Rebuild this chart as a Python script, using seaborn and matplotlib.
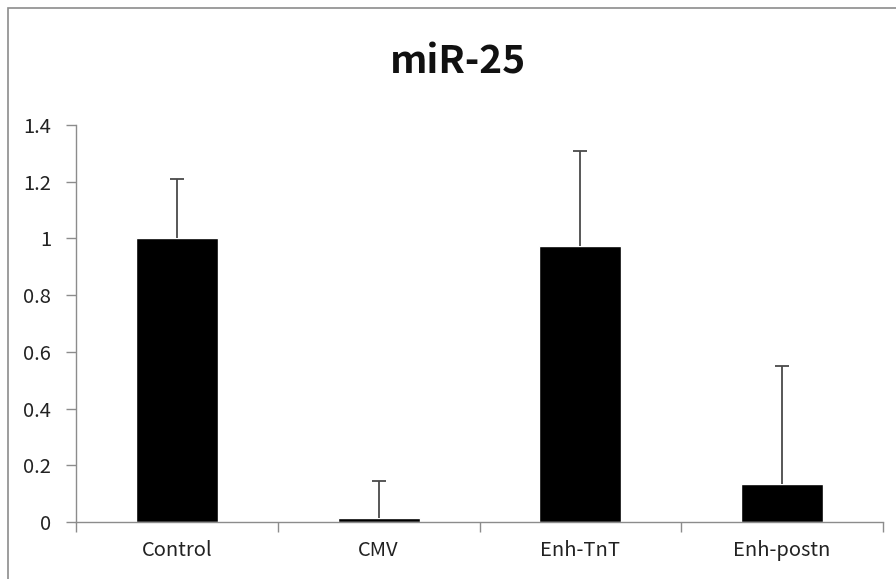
import matplotlib
matplotlib.use("Agg")
import matplotlib.pyplot as plt
import matplotlib.patches as mpatches
import seaborn as sns
import pandas as pd
from matplotlib.ticker import FuncFormatter, FixedLocator

# === data ===
groups = ["Control", "CMV", "Enh-TnT", "Enh-postn"]
means = [1.0, 0.015, 0.973, 0.134]
err_up = [0.209, 0.128, 0.337, 0.416]

df = pd.DataFrame({"group": groups, "value": means})

sns.set_style("white")
plt.rcParams["font.family"] = ["Noto Sans CJK KR", "DejaVu Sans"]

W, H = 896, 579
fig = plt.figure(figsize=(W / 100, H / 100), dpi=100)
ax = fig.add_axes([76 / W, 1 - 522 / H, (883 - 76) / W, (522 - 125) / H])

sns.barplot(data=df, x="group", y="value", color="black", width=0.406,
            errorbar=None, saturation=1, ax=ax)

# error bars (upper only)
xs = [p.get_x() + p.get_width() / 2 for p in ax.patches]
eb = ax.errorbar(xs, means, yerr=[[0] * len(means), err_up], fmt="none",
                 ecolor="#4a4a4a", elinewidth=1.3, capsize=5, capthick=1.3)
eb[1][0].set_visible(False)  # hide lower caps

ax.set_xlim(-0.5, len(groups) - 0.5)
ax.set_ylim(0, 1.4)
ax.set_yticks([0, 0.2, 0.4, 0.6, 0.8, 1.0, 1.2, 1.4])
ax.yaxis.set_major_formatter(FuncFormatter(lambda v, p: f"{v:g}"))
ax.set_xlabel("")
ax.set_ylabel("")

for s in ["top", "right"]:
    ax.spines[s].set_visible(False)
for s in ["left", "bottom"]:
    ax.spines[s].set_color("#8c8c8c")
    ax.spines[s].set_linewidth(1.0)

ax.tick_params(axis="x", which="major", length=0, pad=13, labelsize=14.5, colors="#222222")
ax.xaxis.set_minor_locator(FixedLocator([-0.5, 0.5, 1.5, 2.5, 3.5]))
ax.tick_params(axis="x", which="minor", length=7, width=1.0, color="#8c8c8c", direction="out", bottom=True)
ax.tick_params(axis="y", length=7, width=1.0, color="#8c8c8c", direction="out", left=True,
               pad=11, labelsize=14.5, labelcolor="#222222")

fig.text(458 / W, 1 - 62 / H, "miR-25", ha="center", va="center",
         fontsize=28, fontweight="bold", color="#111111")

# chart area border (only top/left visible in the crop)
fig.add_artist(mpatches.Rectangle((7.5 / W, -0.1), 1.2, 1 - 7.5 / H + 0.1,
                                  transform=fig.transFigure, fill=False,
                                  edgecolor="#8c8c8c", linewidth=1.2))

fig.savefig("out.png", dpi=100)
